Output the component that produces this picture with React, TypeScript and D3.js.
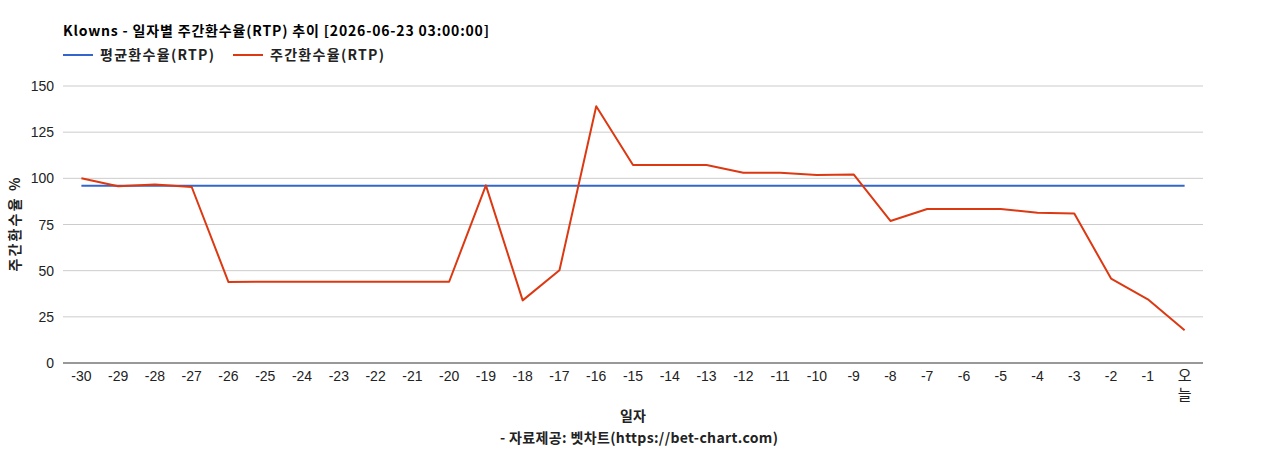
import { useEffect } from 'react'
import * as d3 from 'd3'

const days = ['-30', '-29', '-28', '-27', '-26', '-25', '-24', '-23', '-22', '-21', '-20', '-19', '-18', '-17', '-16', '-15', '-14', '-13', '-12', '-11', '-10', '-9', '-8', '-7', '-6', '-5', '-4', '-3', '-2', '-1', '오늘']
const weeklyRtp = [100, 95.7, 96.7, 95.3, 43.8, 44, 44, 44, 44, 44, 44, 96.2, 33.9, 50.2, 139, 107.2, 107.2, 107.2, 103, 103, 101.8, 102.1, 76.9, 83.4, 83.4, 83.4, 81.4, 81, 45.7, 34.5, 17.7]
const avgRtp = days.map(() => 96)
const yTicks = [0, 25, 50, 75, 100, 125, 150]

const title = 'Klowns - 일자별 주간환수율(RTP) 추이 [2026-06-23 03:00:00]'
const legendItems = [
  { label: '평균환수율(RTP)', color: '#3366cc' },
  { label: '주간환수율(RTP)', color: '#dc3912' }
]

const W = 1268
const H = 450
const margin = { top: 86, right: 65, bottom: 87, left: 63 }
const sans = '"Liberation Sans", Arial, "Noto Sans CJK KR", sans-serif'
const kor = '"Noto Sans CJK KR", "Liberation Sans", sans-serif'

export default function App() {
  useEffect(() => {
    document.body.style.margin = '0'
  }, [])

  const x = d3.scaleBand().domain(days).range([margin.left, W - margin.right])
  const cx = (d: string) => x(d)! + x.bandwidth() / 2
  const y = d3.scaleLinear().domain([0, 150]).range([H - margin.bottom, margin.top])

  const line = d3.line<number>()
    .x((_, i) => cx(days[i]))
    .y(d => y(d))

  return (
    <svg width={W} height={H} style={{ display: 'block', background: '#fff' }}>
      <text x={63} y={36} fontFamily={kor} fontWeight="bold" fontSize={14} textLength={426} lengthAdjust="spacing" fill="#000">{title}</text>

      {legendItems.map((item, i) => {
        const lx = 63 + i * 170
        return (
          <g key={item.label}>
            <line x1={lx} x2={lx + 30} y1={55} y2={55} stroke={item.color} strokeWidth={2} />
            <text x={lx + 37} y={60} fontFamily={kor} fontWeight="bold" fontSize={14} textLength={114} lengthAdjust="spacing" fill="#222">{item.label}</text>
          </g>
        )
      })}

      {yTicks.map(t => (
        <g key={t}>
          {t > 0 && <line x1={margin.left} x2={W - margin.right} y1={y(t)} y2={y(t)} stroke="#cccccc" strokeWidth={1} />}
          <text x={54} y={y(t) + 5} textAnchor="end" fontFamily={sans} fontSize={14} fill="#222">{t}</text>
        </g>
      ))}

      <line x1={margin.left} x2={W - margin.right} y1={y(0)} y2={y(0)} stroke="#333" strokeWidth={1} />

      {days.map(d => (
        d === '오늘'
          ? <text key={d} x={cx(d)} textAnchor="middle" fontFamily={kor} fontSize={15} fill="#222">
              <tspan x={cx(d)} y={381}>오</tspan>
              <tspan x={cx(d)} y={400}>늘</tspan>
            </text>
          : <text key={d} x={cx(d)} y={381} textAnchor="middle" fontFamily={sans} fontSize={14} fill="#222">{d}</text>
      ))}

      <path d={line(avgRtp)!} fill="none" stroke="#3366cc" strokeWidth={2} />
      <path d={line(weeklyRtp)!} fill="none" stroke="#dc3912" strokeWidth={2} strokeLinejoin="round" />

      <text transform={`translate(20,${(y(0) + y(150)) / 2}) rotate(-90)`} textAnchor="middle" fontFamily={kor} fontWeight="bold" fontSize={14} textLength={94} lengthAdjust="spacing" fill="#222">주간환수율 %</text>

      <text x={(margin.left + W - margin.right) / 2} y={421} textAnchor="middle" fontFamily={kor} fontWeight="bold" fontSize={14} fill="#222">일자</text>
      <text x={639} y={443} textAnchor="middle" fontFamily={kor} fontWeight="bold" fontSize={14} textLength={278} lengthAdjust="spacing" fill="#222">- 자료제공: 벳차트(https://bet-chart.com)</text>
    </svg>
  )
}
